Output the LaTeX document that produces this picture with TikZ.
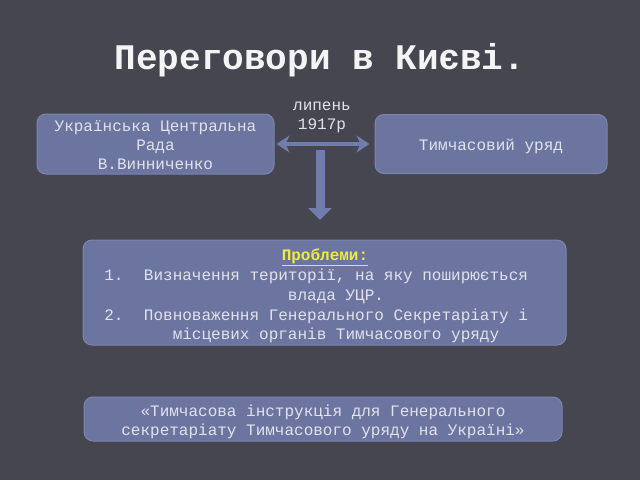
\documentclass[tikz,border=0pt]{standalone}
\usepackage{fontspec}
\setmainfont{Liberation Mono}
\usetikzlibrary{arrows.meta}
\definecolor{bg}{RGB}{70,70,80}
\definecolor{boxc}{RGB}{108,117,160}
\definecolor{boxline}{RGB}{124,133,175}
\definecolor{txt}{RGB}{226,226,236}
\definecolor{arrc}{RGB}{112,124,172}
\definecolor{yel}{RGB}{236,236,60}
\begin{document}
\begin{tikzpicture}[x=1pt,y=-1pt,
  box/.style={draw=boxline, line width=1pt, fill=boxc, rounded corners=9pt, inner sep=0pt},
  ln/.style={text=txt, font=\fontsize{16}{19.5}\selectfont, inner sep=0pt, anchor=base},
  harrow/.style={draw=arrc, line width=4pt, {Stealth[length=13pt,width=17pt,inset=4pt]}-{Stealth[length=13pt,width=17pt,inset=4pt]}, shorten <=2pt, shorten >=5pt},
  varrow/.style={draw=arrc, line width=9pt, -{Triangle[length=12pt,width=23pt]}}]
\fill[bg] (0,0) rectangle (640,480);
\useasboundingbox (0,0) rectangle (640,480);

\node[anchor=base, inner sep=0pt, text=white!94!bg, font=\fontsize{36}{40}\selectfont\bfseries] (title) at (320,69) {Переговори в Києві.};

\node[box, minimum width=237pt, minimum height=60pt] (L) at (155.5,144) {};
\node[ln] (L1) at (155.5,131) {Українська Центральна};
\node[ln] (L2) at (155.5,150.5) {Рада};
\node[ln] (L3) at (155.5,169.5) {В.Винниченко};

\node[box, minimum width=232pt, minimum height=59pt] (R) at (491,144) {};
\node[ln] (R1) at (491,150) {Тимчасовий уряд};

\node[ln] (d1) at (322,110) {липень};
\node[ln] (d2) at (322,129) {1917р};

\draw[harrow] (L.east) -- (R.west);

\coordinate (vs) at (320,150);
\coordinate (ve) at (320,220);
\draw[varrow] (vs) -- (ve);

\node[box, minimum width=483pt, minimum height=105pt] (M) at (324.5,292.5) {};
\node[ln, text=yel] (mh) at (325,260) {\underline{\textbf{Проблеми:}}};
\node[ln] (n1) at (114,280) {1.};
\node[ln] (i1a) at (336,280) {Визначення території, на яку поширюється};
\node[ln] (i1b) at (336,300) {влада УЦР.};
\node[ln] (n2) at (114,320) {2.};
\node[ln] (i2a) at (336,320) {Повноваження Генерального Секретаріату і};
\node[ln] (i2b) at (336,339) {місцевих органів Тимчасового уряду};

\node[box, minimum width=478pt, minimum height=44pt] (B) at (323,419) {};
\node[ln] (B1) at (323,416) {«Тимчасова інструкція для Генерального};
\node[ln] (B2) at (323,435) {секретаріату Тимчасового уряду на Україні»};
\end{tikzpicture}
\end{document}
